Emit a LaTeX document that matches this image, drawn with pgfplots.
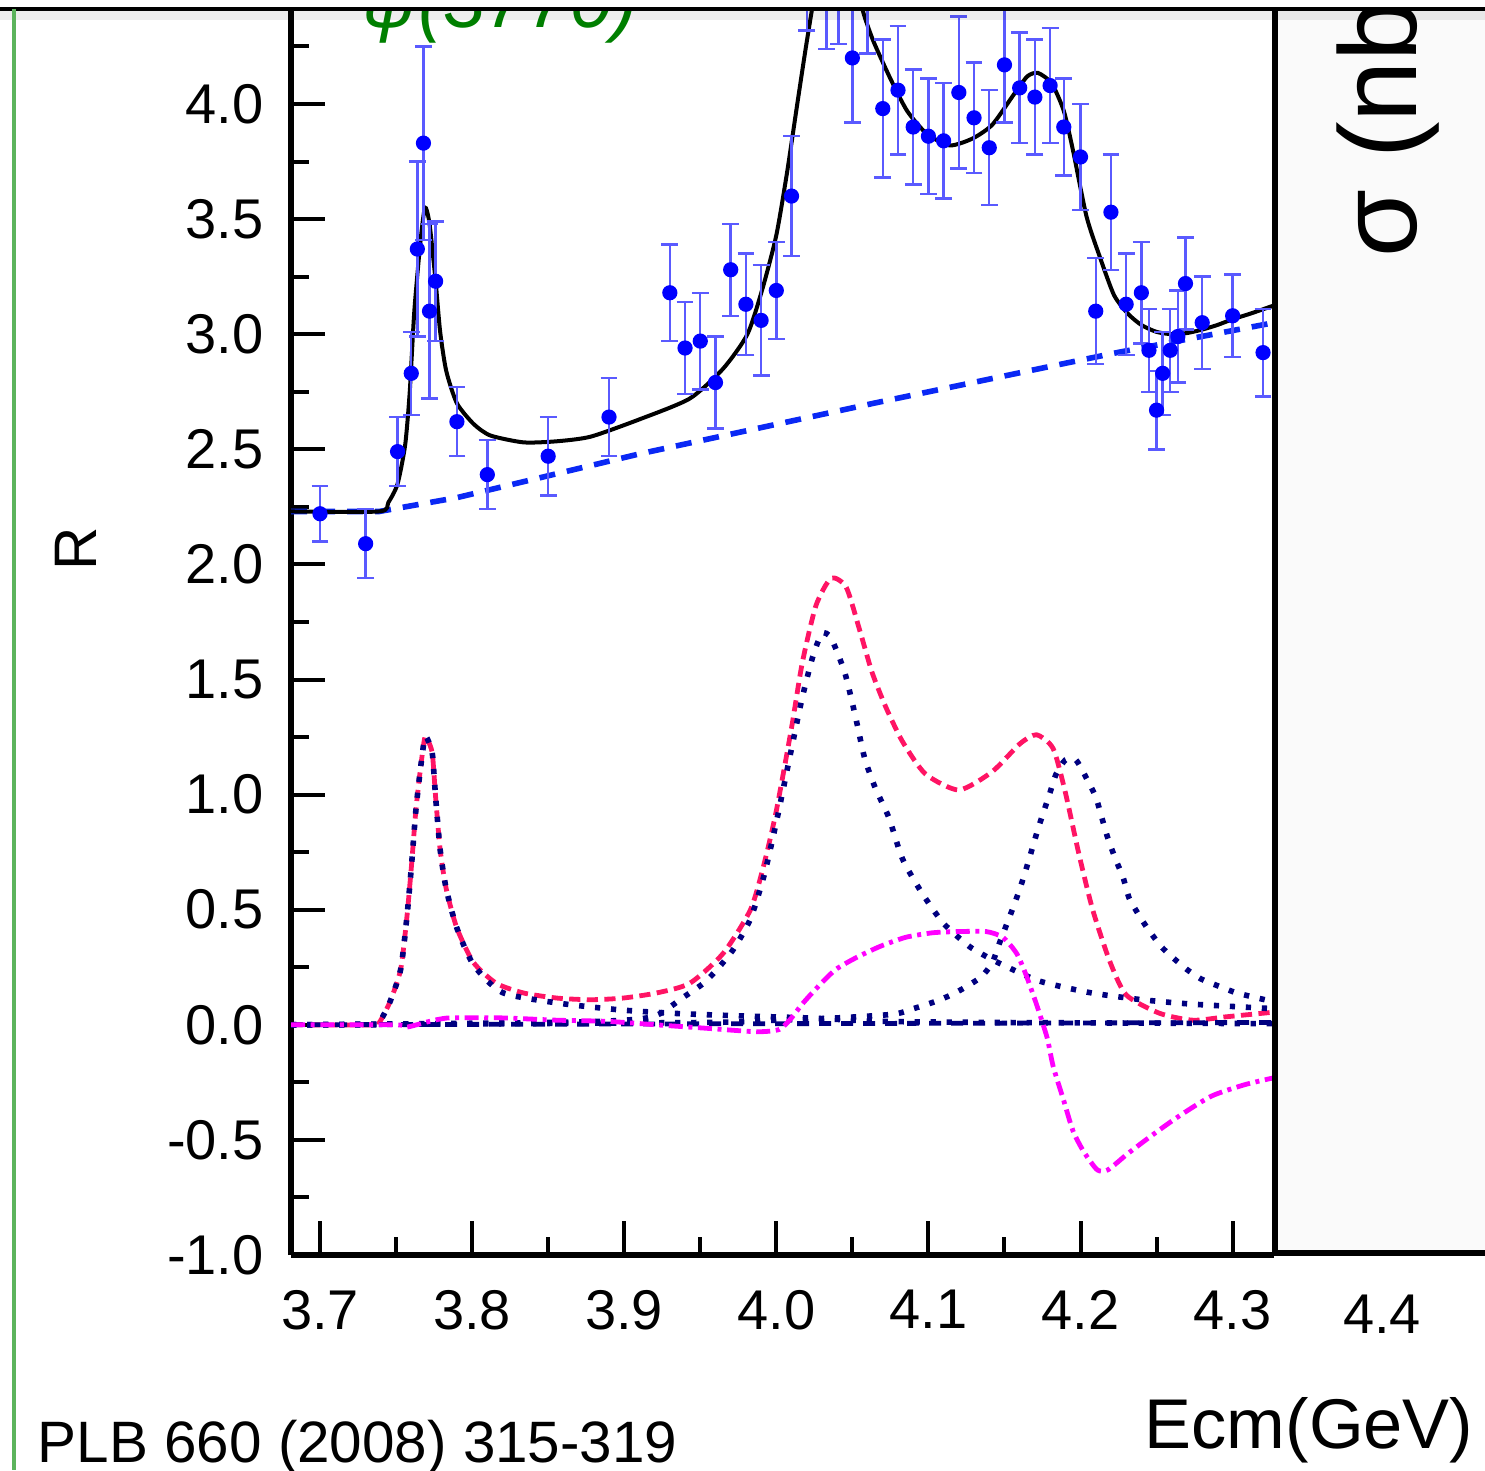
\documentclass[border=0pt]{standalone}
\usepackage{fontspec}
\setmainfont{Liberation Sans}
\usepackage{pgfplots}
\pgfplotsset{compat=1.18}
\definecolor{pinkred}{RGB}{255,20,100}
\definecolor{navyd}{RGB}{0,0,128}
\definecolor{magentad}{RGB}{255,0,255}
\definecolor{ptblue}{RGB}{0,0,255}
\definecolor{errblue}{RGB}{90,90,255}
\definecolor{bgblue}{RGB}{10,40,245}
\definecolor{darkgreen}{RGB}{0,128,0}
\definecolor{edgegreen}{RGB}{92,180,92}
\definecolor{panelgray}{RGB}{250,250,250}
\newcommand{\tickfont}{\fontsize{14pt}{16pt}\selectfont}

\begin{document}
\begin{tikzpicture}
\path[use as bounding box] (0,0) rectangle (371.25pt,367.5pt);
\begin{axis}[
  at={(72.75pt,53.75pt)}, anchor=south west,
  scale only axis, width=245.75pt, height=311.25pt,
  xmin=3.68093, xmax=4.32722, ymin=-1, ymax=4.4083,
  axis x line*=bottom, axis y line*=left,
  axis line style={-, line width=1.4pt, black},
  every outer x axis line/.append style={-},
  every outer y axis line/.append style={-},
  tick align=inside,
  major tick length=8.5pt, minor tick length=4.5pt,
  tick style={black, line width=1pt},
  xtick={3.7,3.8,3.9,4.0,4.1,4.2,4.3},
  xticklabels={3.7,3.8,3.9,4.0,4.1,4.2,4.3},
  minor xtick={3.75,3.85,3.95,4.05,4.15,4.25},
  ytick={-1,-0.5,0,0.5,1,1.5,2,2.5,3,3.5,4},
  yticklabels={-1.0,-0.5,0.0,0.5,1.0,1.5,2.0,2.5,3.0,3.5,4.0},
  minor ytick={-0.75,-0.25,0.25,0.75,1.25,1.75,2.25,2.75,3.25,3.75,4.25},
  ticklabel style={font=\tickfont},
  xticklabel style={yshift=-5.2pt},
  yticklabel style={xshift=-3.3pt},
]
% background (dashed blue)
\addplot[bgblue, line width=1.4pt, dash pattern=on 4pt off 3pt] coordinates {
(3.681,2.23) (3.739,2.23) (3.790,2.29) (3.910,2.48) (4.064,2.70) (4.180,2.86) (4.224,2.92) (4.3272,3.05)};
% total fit (black)
\addplot[black, line width=1pt, smooth, tension=0.4] coordinates {
(3.681,2.23) (3.739,2.23) (3.745,2.27) (3.751,2.35) (3.756,2.52) (3.759,2.75) (3.762,3.10) (3.766,3.40) (3.769,3.55) (3.772,3.48) (3.776,3.23) (3.779,3.01) (3.783,2.84) (3.790,2.70) (3.801,2.61) (3.812,2.56) (3.834,2.53) (3.856,2.535) (3.878,2.555) (3.910,2.63) (3.943,2.72) (3.965,2.85) (3.981,3.00) (3.991,3.20) (4.000,3.43) (4.007,3.70) (4.014,4.01) (4.020,4.27) (4.026,4.50) (4.035,4.70) (4.045,4.70) (4.053,4.50) (4.058,4.38) (4.064,4.27) (4.075,4.11) (4.086,3.97) (4.099,3.87) (4.114,3.82) (4.129,3.85) (4.142,3.91) (4.156,4.04) (4.165,4.12) (4.172,4.135) (4.181,4.09) (4.189,3.97) (4.195,3.80) (4.204,3.51) (4.213,3.33) (4.222,3.17) (4.231,3.09) (4.240,3.04) (4.250,3.01) (4.260,3.00) (4.270,3.005) (4.280,3.02) (4.290,3.04) (4.300,3.065) (4.312,3.09) (4.3272,3.125)};
% data
\addplot[only marks, mark=*, mark size=1.7pt, ptblue,
  error bars/.cd, y dir=both, y explicit,
  error bar style={errblue, line width=0.6pt},
  error mark options={rotate=90, errblue, line width=0.6pt, mark size=2.1pt}]
table[x=x, y=y, y error=e, row sep=\\] {
x y e \\
3.700 2.22 0.12 \\
3.730 2.09 0.15 \\
3.751 2.49 0.15 \\
3.760 2.83 0.18 \\
3.764 3.37 0.38 \\
3.768 3.83 0.42 \\
3.772 3.10 0.38 \\
3.776 3.23 0.26 \\
3.790 2.62 0.15 \\
3.810 2.39 0.15 \\
3.850 2.47 0.17 \\
3.890 2.64 0.17 \\
3.930 3.18 0.21 \\
3.940 2.94 0.20 \\
3.950 2.97 0.21 \\
3.960 2.79 0.20 \\
3.970 3.28 0.20 \\
3.980 3.13 0.22 \\
3.990 3.06 0.24 \\
4.000 3.19 0.21 \\
4.010 3.60 0.26 \\
4.020 4.60 0.28 \\
4.033 4.52 0.28 \\
4.041 4.54 0.28 \\
4.050 4.20 0.28 \\
4.060 4.50 0.28 \\
4.070 3.98 0.30 \\
4.080 4.06 0.28 \\
4.090 3.90 0.25 \\
4.100 3.86 0.25 \\
4.110 3.84 0.25 \\
4.120 4.05 0.33 \\
4.130 3.94 0.24 \\
4.140 3.81 0.25 \\
4.150 4.17 0.25 \\
4.160 4.07 0.24 \\
4.170 4.03 0.25 \\
4.180 4.08 0.25 \\
4.189 3.90 0.21 \\
4.200 3.77 0.23 \\
4.210 3.10 0.23 \\
4.220 3.53 0.25 \\
4.230 3.13 0.22 \\
4.240 3.18 0.22 \\
4.245 2.93 0.18 \\
4.250 2.67 0.17 \\
4.254 2.83 0.18 \\
4.259 2.93 0.18 \\
4.264 2.99 0.20 \\
4.269 3.22 0.20 \\
4.280 3.05 0.20 \\
4.300 3.08 0.18 \\
4.320 2.92 0.19 \\
};
% resonance sum (pink dashed)
\addplot[pinkred, line width=1.2pt, dash pattern=on 2.8pt off 1.6pt, smooth, tension=0.4] coordinates {
(3.681,0) (3.735,0) (3.739,0.01) (3.746,0.10) (3.753,0.24) (3.757,0.46) (3.760,0.68) (3.763,0.93) (3.766,1.11) (3.769,1.25) (3.772,1.22) (3.774,1.17) (3.776,0.99) (3.779,0.76) (3.783,0.59) (3.790,0.42) (3.801,0.27) (3.816,0.18) (3.834,0.138) (3.856,0.116) (3.878,0.109) (3.899,0.116) (3.921,0.138) (3.943,0.18) (3.965,0.31) (3.983,0.50) (3.992,0.70) (4.000,0.93) (4.010,1.29) (4.017,1.57) (4.026,1.82) (4.036,1.94) (4.046,1.90) (4.055,1.71) (4.063,1.53) (4.072,1.38) (4.083,1.23) (4.098,1.09) (4.120,1.02) (4.142,1.10) (4.160,1.22) (4.171,1.26) (4.182,1.20) (4.190,1.01) (4.199,0.74) (4.208,0.50) (4.219,0.28) (4.230,0.13) (4.252,0.05) (4.274,0.02) (4.296,0.035) (4.3272,0.055)};
% navy dashed near zero
\addplot[navyd, line width=1.2pt, dash pattern=on 3pt off 2.5pt] coordinates {(3.681,0.0) (4.3272,0.01)};
% psi(3770)
\addplot[navyd, line width=1.4pt, dash pattern=on 1.3pt off 2.7pt, smooth, tension=0.4] coordinates {
(3.681,0) (3.735,0) (3.739,0.01) (3.746,0.10) (3.753,0.24) (3.757,0.46) (3.760,0.68) (3.763,0.93) (3.766,1.11) (3.769,1.25) (3.772,1.22) (3.774,1.17) (3.776,0.99) (3.779,0.76) (3.783,0.59) (3.790,0.42) (3.801,0.26) (3.820,0.14) (3.857,0.094) (3.897,0.065) (3.932,0.05) (3.971,0.04) (4.02,0.03) (4.07,0.015) (4.15,0.01) (4.3272,0.005)};
% psi(4040)
\addplot[navyd, line width=1.4pt, dash pattern=on 1.3pt off 2.7pt, smooth, tension=0.4] coordinates {
(3.681,0.0) (3.85,0.01) (3.90,0.02) (3.921,0.04) (3.939,0.12) (3.952,0.18) (3.961,0.24) (3.972,0.33) (3.983,0.46) (3.992,0.65) (4.000,0.88) (4.010,1.20) (4.017,1.42) (4.024,1.60) (4.030,1.70) (4.036,1.68) (4.045,1.53) (4.052,1.34) (4.058,1.16) (4.065,1.03) (4.074,0.90) (4.083,0.72) (4.096,0.57) (4.110,0.44) (4.127,0.34) (4.140,0.29) (4.149,0.26) (4.173,0.19) (4.206,0.14) (4.239,0.11) (4.273,0.09) (4.3272,0.07)};
% psi(4160)
\addplot[navyd, line width=1.4pt, dash pattern=on 1.3pt off 2.7pt, smooth, tension=0.4] coordinates {
(3.681,0) (3.95,0.01) (4.00,0.02) (4.04,0.03) (4.077,0.046) (4.090,0.07) (4.104,0.10) (4.115,0.13) (4.125,0.166) (4.135,0.21) (4.142,0.27) (4.147,0.36) (4.154,0.48) (4.159,0.57) (4.163,0.65) (4.168,0.76) (4.172,0.85) (4.176,0.93) (4.180,1.01) (4.184,1.09) (4.190,1.15) (4.197,1.15) (4.204,1.07) (4.210,0.99) (4.214,0.90) (4.218,0.81) (4.223,0.72) (4.228,0.64) (4.232,0.55) (4.239,0.47) (4.245,0.41) (4.253,0.34) (4.261,0.29) (4.270,0.24) (4.279,0.20) (4.290,0.17) (4.302,0.14) (4.314,0.12) (4.3272,0.10)};
% interference (magenta dash-dot)
\addplot[magentad, line width=1.2pt, dash pattern=on 3.5pt off 1.4pt on 1pt off 1.4pt, smooth, tension=0.4] coordinates {
(3.681,0) (3.750,0) (3.757,-0.01) (3.772,0.015) (3.785,0.03) (3.820,0.03) (3.856,0.02) (3.889,0.015) (3.921,0.0) (3.954,-0.015) (3.987,-0.03) (4.002,-0.02) (4.010,0.03) (4.017,0.09) (4.028,0.17) (4.039,0.24) (4.052,0.29) (4.068,0.34) (4.085,0.38) (4.103,0.40) (4.120,0.405) (4.138,0.405) (4.149,0.38) (4.158,0.31) (4.164,0.22) (4.171,0.09) (4.178,-0.055) (4.182,-0.18) (4.189,-0.33) (4.195,-0.46) (4.202,-0.55) (4.211,-0.63) (4.218,-0.63) (4.231,-0.56) (4.247,-0.48) (4.264,-0.40) (4.286,-0.31) (4.308,-0.26) (4.3272,-0.23)};
\end{axis}
\begin{scope}[x=0.25pt,y=-0.25pt,yshift=367.5pt]
  % right panel
  \fill[panelgray] (1275,10) rectangle (1485,1253);
  \begin{scope}
    \clip (1278,10) rectangle (1485,1250);
    \node[rotate=90, anchor=base west, inner sep=0, font=\fontsize{27.5pt}{30pt}\selectfont] at (1416,258) {σ (nb)};
  \end{scope}
  \draw[line width=1.3pt] (1275,10) -- (1275,1253) -- (1485,1253);
  % green label at top
  \node[anchor=base west, inner sep=0, text=darkgreen, font=\fontsize{19pt}{22pt}\selectfont\itshape] at (362,28) {ψ(3770)};
  % top frame
  \fill[white] (0,0) rectangle (1485,8);
  \fill[black, opacity=0.07] (0,10) rectangle (1485,20);
  \draw[line width=0.9pt] (0,9) -- (1485,9);
  % left green edge
  \draw[edgegreen, line width=1pt] (14,9) -- (14,1470);
  % texts
  \node[rotate=90, inner sep=0, font=\fontsize{15pt}{18pt}\selectfont] at (76,549) {R};
  \node[anchor=north, inner sep=0, font=\tickfont] at (1382,1294) {4.4};
  \node[anchor=base west, inner sep=0, font=\fontsize{14.6pt}{17pt}\selectfont] at (37,1462) {PLB 660 (2008) 315-319};
  \node[anchor=base west, inner sep=0, font=\fontsize{17.6pt}{20pt}\selectfont] at (1144,1448) {Ecm(GeV)};
\end{scope}
\end{tikzpicture}
\end{document}
